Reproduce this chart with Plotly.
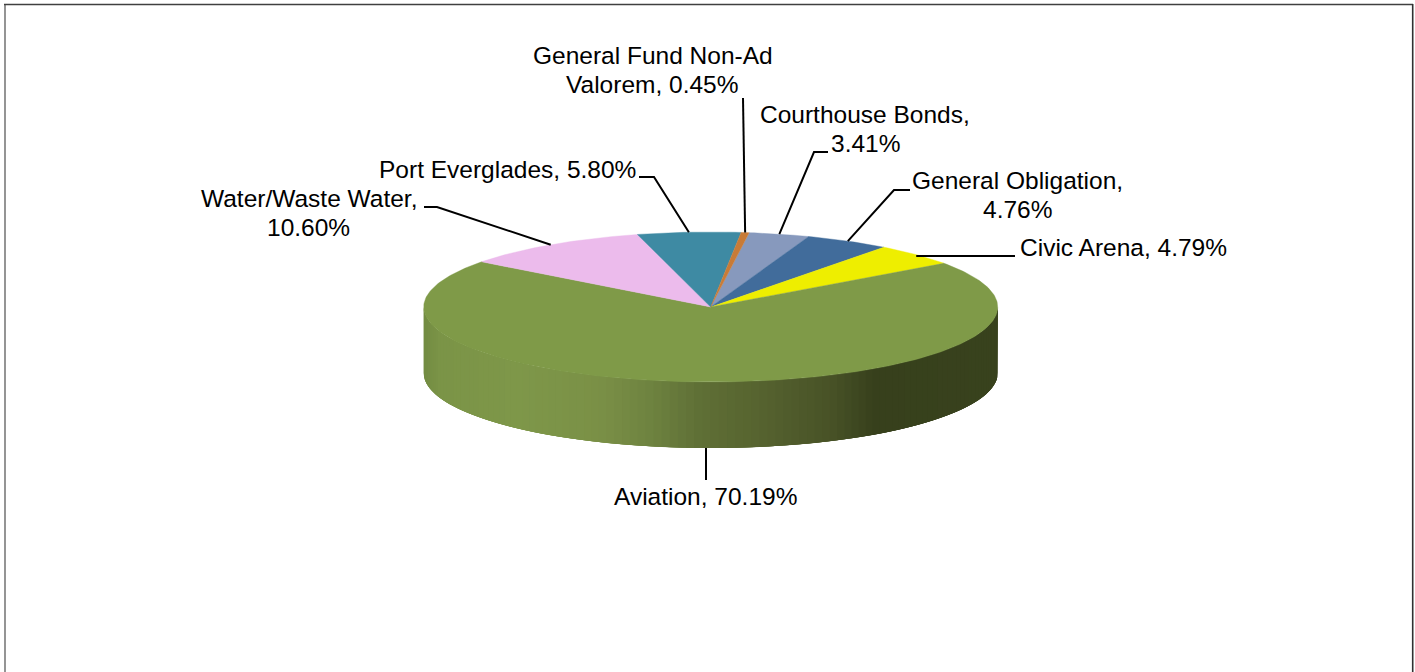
import math
import plotly.graph_objects as go

# ---- data (clockwise from the pie's first slice) ----
categories = ["Courthouse Bonds", "General Obligation", "Civic Arena", "Aviation",
              "Water/Waste Water", "Port Everglades", "General Fund Non-Ad Valorem"]
values = [3.41, 4.76, 4.79, 70.19, 10.60, 5.80, 0.45]
colors = ["#8799BD", "#416C9B", "#EEEE00", "#7F9A48", "#ECBBEC", "#3E8AA3", "#C87B37"]

# text before the line break of each label ("" = single line)
first_lines = ["Courthouse Bonds,", "General Obligation,", "", "", "Water/Waste Water,", "", "General Fund Non-Ad"]
label_centers = [(865, 114), (1017, 180), (1123, 247), (705, 496), (308.5, 198), (507, 169), (652.5, 55)]
leader_paths = [[(814, 152), (828, 152)], [(894, 190), (910, 190)], [(1015, 256)], [(706, 480)],
                [(437, 207), (424, 207)], [(654, 177), (639, 177)], [(743, 98)]]
leader_anchor_dy = [0, 0, 1.4, 0, 0, 0, 0]

# ---- pie geometry ----
CX, CY, RX, RY, DEPTH = 710.7, 307, 287, 75, 66
START_DEG = 7.7
LINE_H = 29

# side-wall shading: x position -> colour
shade_x = [423, 440, 520, 600, 650, 700, 760, 830, 875, 997]
shade_c = ["#728B42", "#7B9447", "#7E9749", "#7A9046", "#6E8340", "#5F6F36", "#56632F", "#485227", "#37401C", "#38421D"]


def rgb(h):
    return tuple(int(h[i:i + 2], 16) for i in (1, 3, 5))


def shade(x):
    for i in range(len(shade_x) - 1):
        if x <= shade_x[i + 1]:
            t = (x - shade_x[i]) / (shade_x[i + 1] - shade_x[i])
            a, b = rgb(shade_c[i]), rgb(shade_c[i + 1])
            return "rgb(%d,%d,%d)" % tuple(round(a[k] + (b[k] - a[k]) * t) for k in range(3))
    return shade_c[-1]


def pt(deg, dy=0):
    r = math.radians(deg)
    return CX + RX * math.sin(r), CY - RY * math.cos(r) + dy


fig = go.Figure()

# side wall: overlapping strips painted left to right, so no seams show
N = 110
for i in range(N):
    a0 = 270 - 180 * i / N
    a1 = 270 - 180 * (i + 1) / N
    c = shade((pt(a0)[0] + pt(a1)[0]) / 2)
    sweep_end = max(90, 270 - 180 * (i + 4) / N)
    angs = [a0 + (sweep_end - a0) * k / 4 for k in range(5)]
    p = [pt(a) for a in angs] + [pt(a, DEPTH) for a in reversed(angs)]
    fig.add_trace(go.Scatter(x=[q[0] for q in p], y=[q[1] for q in p], mode="lines", fill="toself",
                             fillcolor=c, line=dict(width=0), hoverinfo="skip", showlegend=False))

# top face wedges and their leader lines
angle = START_DEG
mids = []
for name, v, c in zip(categories, values, colors):
    sweep = v * 3.6
    steps = max(2, int(sweep))
    arc = [pt(angle + sweep * k / steps) for k in range(steps + 1)]
    xs = [CX] + [q[0] for q in arc] + [CX]
    ys = [CY] + [q[1] for q in arc] + [CY]
    fig.add_trace(go.Scatter(x=xs, y=ys, mode="lines", fill="toself", fillcolor=c,
                             line=dict(color=c, width=0.4), name=name, hoverinfo="skip", showlegend=False))
    mids.append(angle + sweep / 2)
    angle += sweep

for mid, path, ady in zip(mids, leader_paths, leader_anchor_dy):
    front = 90 < (mid % 360) < 270
    x0, y0 = pt(mid, DEPTH if front else ady)
    if front:
        x0 = path[0][0]
    fig.add_trace(go.Scatter(x=[x0] + [q[0] for q in path], y=[y0] + [q[1] for q in path], mode="lines",
                             line=dict(color="#000000", width=2), hoverinfo="skip", showlegend=False))

# labels
annotations = []
for name, v, first, (lx, ly) in zip(categories, values, first_lines, label_centers):
    full = f"{name}, {v:.2f}%"
    if first:
        tail = full[len(first):] if full.startswith(first) else full.split(first.rstrip(","))[-1]
        rows = [first, tail.lstrip(", ")]
    else:
        rows = [full]
    for j, row in enumerate(rows):
        annotations.append(dict(x=lx, y=ly + j * LINE_H, text=row, showarrow=False, xref="x", yref="y",
                                xanchor="center", yanchor="middle",
                                font=dict(family="Liberation Sans", size=24.5, color="#000000")))

frame = [
    dict(type="line", x0=5, x1=5, y0=4, y1=672, line=dict(color="#7A7A7A", width=1.6)),
    dict(type="line", x0=4, x1=1413, y0=4.5, y1=4.5, line=dict(color="#404040", width=1.6)),
    dict(type="line", x0=1412.7, x1=1412.7, y0=4, y1=672, line=dict(color="#303030", width=1.6)),
]

fig.update_layout(
    width=1415, height=672, margin=dict(l=0, r=0, t=0, b=0, pad=0),
    paper_bgcolor="#FFFFFF", plot_bgcolor="#FFFFFF", showlegend=False,
    xaxis=dict(range=[0, 1415], visible=False, fixedrange=True),
    yaxis=dict(range=[672, 0], visible=False, fixedrange=True),
    annotations=annotations, shapes=frame,
)
fig.write_html("out.html", post_script="document.body.style.margin='0';document.body.style.overflow='hidden';",
               config={"displayModeBar": False})
